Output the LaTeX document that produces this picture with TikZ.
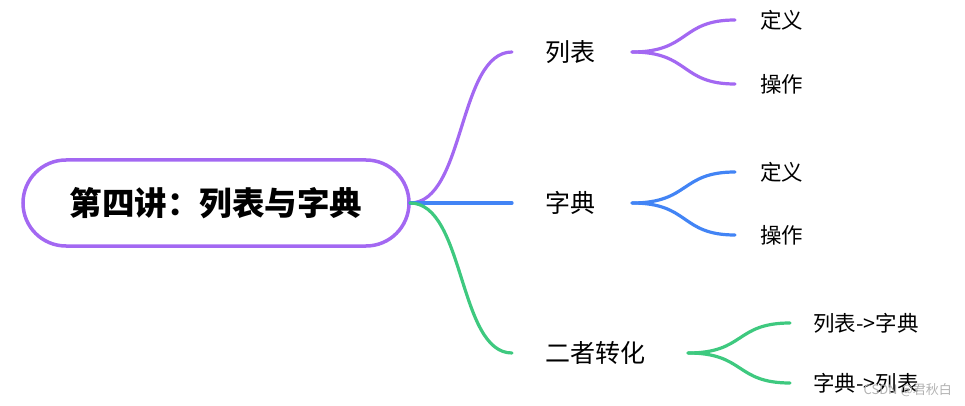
\documentclass[tikz,border=0pt]{standalone}
\usepackage{fontspec}
\setmainfont{Noto Sans CJK SC}
\definecolor{pur}{HTML}{A368F2}
\definecolor{blu}{HTML}{4284F5}
\definecolor{grn}{HTML}{3EC97F}
\begin{document}
\begin{tikzpicture}[x=1pt,y=-1pt,
  br/.style={line width=3.2pt,line cap=round},
  lbl/.style={inner sep=0,anchor=west,font=\fontsize{25}{25}\selectfont},
  leaf/.style={inner sep=0,anchor=west,font=\fontsize{21.5}{22}\selectfont}]
\useasboundingbox (0,0) rectangle (965,406);
\node[draw=pur,line width=3.5pt,rounded corners=43pt,minimum width=386pt,minimum height=86pt,font=\fontsize{32.5}{33}\selectfont\bfseries] (root) at (216,203) {第四讲：列表与字典};
\coordinate (r) at (410,203);
% list
\coordinate (a0) at (512,52); \node[lbl] (a) at (545,52) {列表};
\coordinate (a1) at (632,52);
\coordinate (a2) at (735,20); \coordinate (a3) at (735,84);
\node[leaf] (a4) at (760,20) {定义}; \node[leaf] (a5) at (760,84) {操作};
\draw[br,pur] (r) .. controls (465,203) and (458,52) .. (a0);
\draw[br,pur] (a1) .. controls (690,52) and (680,20) .. (a2);
\draw[br,pur] (a1) .. controls (690,52) and (680,84) .. (a3);
% dict
\coordinate (b0) at (512,203); \node[lbl] (b) at (545,203) {字典};
\coordinate (b1) at (632,203);
\coordinate (b2) at (735,172); \coordinate (b3) at (735,235);
\node[leaf] (b4) at (760,172) {定义}; \node[leaf] (b5) at (760,235) {操作};
\draw[br,blu] (r) -- (b0);
\draw[br,blu] (b1) .. controls (690,203) and (680,172) .. (b2);
\draw[br,blu] (b1) .. controls (690,203) and (680,235) .. (b3);
% convert
\coordinate (c0) at (512,353); \node[lbl] (c) at (545,353) {二者转化};
\coordinate (c1) at (688,353);
\coordinate (c2) at (790,323); \coordinate (c3) at (790,383);
\node[leaf] (c4) at (813,323) {列表->字典}; \node[leaf] (c5) at (813,383) {字典->列表};
\draw[br,grn] (r) .. controls (465,203) and (458,353) .. (c0);
\draw[br,grn] (c1) .. controls (745,353) and (735,323) .. (c2);
\draw[br,grn] (c1) .. controls (745,353) and (735,383) .. (c3);
\node[inner sep=0,anchor=east,text=gray!60,font=\fontsize{13}{13}\selectfont] (wm) at (952,390) {CSDN @君秋白};
\end{tikzpicture}
\end{document}
